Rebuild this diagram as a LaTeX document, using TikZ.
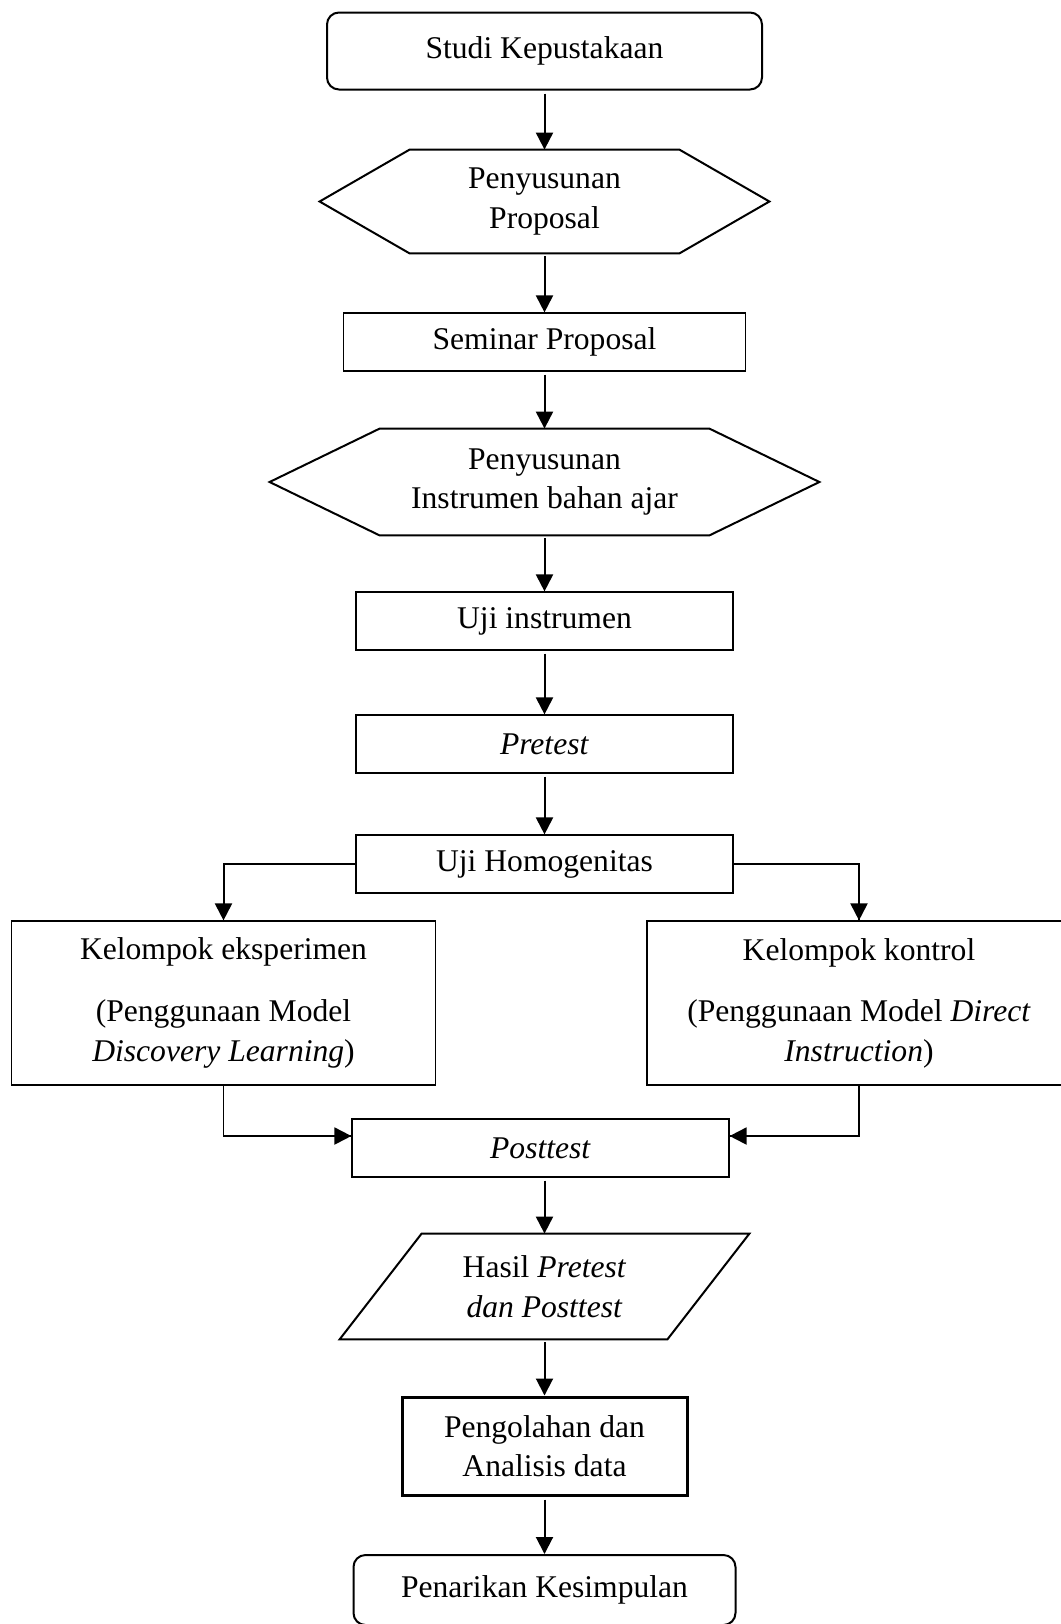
\documentclass[tikz,border=0pt]{standalone}
\usepackage{fontspec}
\setmainfont{Liberation Serif}
\usetikzlibrary{arrows.meta}

\begin{document}
\begin{tikzpicture}[node distance=70pt, font=\fontsize{15.8pt}{19.8pt}\selectfont]
\tikzstyle{terminal} = [rectangle, rounded corners=6pt, draw=black, line width=1pt, text centered]
\tikzstyle{process} = [rectangle, draw=black, line width=0.6pt, text centered, align=center, minimum width=188.5pt, minimum height=29pt]
\tikzstyle{prep} = [rectangle, text centered, align=center]
\tikzstyle{outline} = [line width=1pt, line join=miter]
\tikzstyle{link} = [line width=0.6pt]
\tikzstyle{arrow} = [-{Triangle[length=8.5pt,width=8.5pt]}, line width=1pt, shorten <=1.5pt]

\useasboundingbox (0,0) rectangle (530.5pt,-812pt);

\node (Studi) [terminal, minimum width=217.5pt, minimum height=38.5pt] at (272.25pt,-25.5pt) {Studi Kepustakaan};
\node (PropHex) [prep, node distance=75.25pt, below of=Studi, minimum width=134.5pt, minimum height=51.5pt] {Penyusunan\\Proposal};
\node (Seminar) [process, node distance=70.25pt, below of=PropHex, minimum width=201pt, minimum height=29pt] {Seminar Proposal};
\node (InstrHex) [prep, node distance=70pt, below of=Seminar, minimum width=164.5pt, minimum height=53pt] {Penyusunan\\Instrumen bahan ajar};
\node (UjiInstr) [process, node distance=69.5pt, below of=InstrHex] {Uji instrumen};
\node (Pretest) [process, node distance=61.5pt, below of=UjiInstr] {\textit{Pretest}};
\node (Homog) [process, node distance=60pt, below of=Pretest] {Uji Homogenitas};
\node (Eksperimen) [process, node distance=69.5pt, below of=Homog, xshift=-160.5pt, minimum width=212pt, minimum height=82pt] {Kelompok eksperimen\\[11pt](Penggunaan Model\\\textit{Discovery Learning})};
\node (Kontrol) [process, node distance=69.5pt, below of=Homog, xshift=157.25pt, minimum width=212pt, minimum height=82pt] {Kelompok kontrol\\[11pt](Penggunaan Model \textit{Direct}\\\textit{Instruction})};
\node (Posttest) [process, node distance=142pt, below of=Homog, xshift=-2pt] {\textit{Posttest}};
\node (Hasil) [prep, node distance=69.25pt, below of=Homog, yshift=-142pt, minimum width=163.5pt, minimum height=52.5pt] {Hasil \textit{Pretest}\\\textit{dan Posttest}};
\node (Olah) [process, node distance=79.75pt, below of=Hasil, line width=1.5pt, minimum width=142.5pt, minimum height=49pt] {Pengolahan dan\\Analisis data};
\node (Simpulan) [terminal, node distance=72pt, below of=Olah, minimum width=191pt, minimum height=35pt] {Penarikan Kesimpulan};

% hexagon and parallelogram outlines
\draw [outline] (PropHex.north west) -- (PropHex.north east) -- ([xshift=45pt]PropHex.east) -- (PropHex.south east) -- (PropHex.south west) -- ([xshift=-45pt]PropHex.west) -- cycle;
\draw [outline] (InstrHex.north west) -- (InstrHex.north east) -- ([xshift=55pt]InstrHex.east) -- (InstrHex.south east) -- (InstrHex.south west) -- ([xshift=-55pt]InstrHex.west) -- cycle;
\draw [outline] ([xshift=20.5pt]Hasil.north west) -- ([xshift=20.5pt]Hasil.north east) -- ([xshift=-20.5pt]Hasil.south east) -- ([xshift=-20.5pt]Hasil.south west) -- cycle;

\draw [arrow] (Studi) -- (PropHex);
\draw [arrow] (PropHex) -- (Seminar);
\draw [arrow] (Seminar) -- (InstrHex);
\draw [arrow] (InstrHex) -- (UjiInstr);
\draw [arrow] (UjiInstr) -- (Pretest);
\draw [arrow] (Pretest) -- (Homog);

% split to the two groups
\draw [link] (Homog.west) -| (Eksperimen.north);
\draw [link] (Homog.east) -| (Kontrol.north);
\draw [arrow, shorten <=0pt] (Homog.west -| Eksperimen.north) -- (Eksperimen.north);
\draw [arrow, shorten <=0pt] (Homog.east -| Kontrol.north) -- (Kontrol.north);

% join at the posttest
\draw [link] (Eksperimen.south) |- ([yshift=6pt]Posttest.west);
\draw [link] (Kontrol.south) |- ([yshift=6pt]Posttest.east);
\draw [arrow, shorten <=0pt] ([yshift=6pt]Posttest.west -| Eksperimen.south) -- ([yshift=6pt]Posttest.west);
\draw [arrow, shorten <=0pt] ([yshift=6pt]Posttest.east -| Kontrol.south) -- ([yshift=6pt]Posttest.east);

\draw [arrow] (Posttest.south -| Hasil.north) -- (Hasil);
\draw [arrow] (Hasil) -- (Olah);
\draw [arrow] (Olah) -- (Simpulan);

\end{tikzpicture}
\end{document}
